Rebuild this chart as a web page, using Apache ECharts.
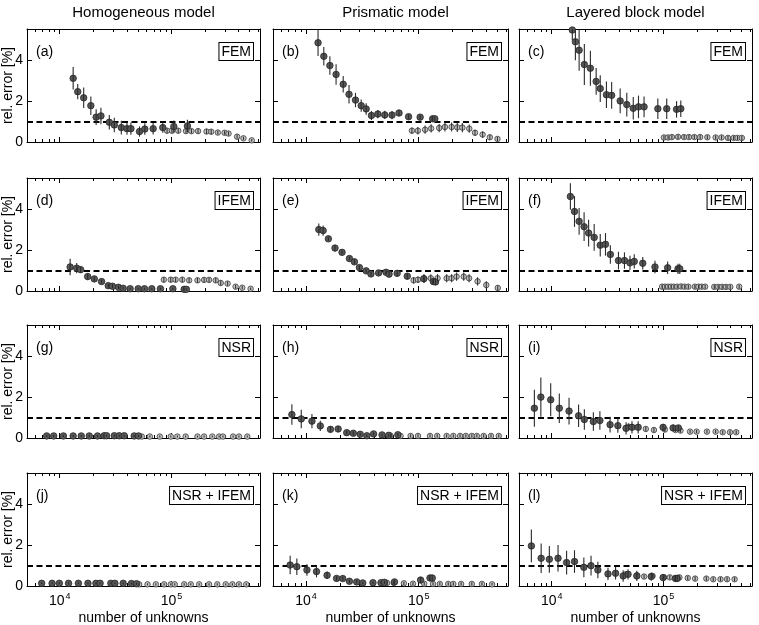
<!DOCTYPE html>
<html>
<head>
<meta charset="utf-8">
<script src="https://cdn.jsdelivr.net/npm/echarts@6/dist/echarts.min.js"></script>
<style>
  html, body { margin: 0; padding: 0; background: #fff; }
  #chart { width: 759px; height: 625px; }
</style>
</head>
<body>
<div id="chart"></div>
<script>
// x: number of unknowns, y: rel. error [%], e: half length of the error bar
// dark = filled dark markers, light = light grey markers

// (a) Homogeneous / FEM
const aDarkN = [13200, 14500, 16400, 19000, 21200, 23400, 27800, 30800, 35600, 40000, 43400, 51800, 57800, 68600, 83700, 105000, 139000];
const aDarkY = [3.10, 2.45, 2.15, 1.77, 1.21, 1.27, 0.96, 0.83, 0.70, 0.65, 0.65, 0.51, 0.63, 0.65, 0.70, 0.75, 0.78];
const aDarkE = [0.55, 0.37, 0.5, 0.45, 0.38, 0.4, 0.35, 0.35, 0.33, 0.3, 0.3, 0.25, 0.28, 0.28, 0.25, 0.3, 0.3];
const aLightN = [91400, 101000, 115000, 135000, 151000, 173000, 206000, 227000, 260000, 299000, 324000, 387000, 441000, 523000];
const aLightY = [0.55, 0.55, 0.55, 0.53, 0.53, 0.53, 0.51, 0.50, 0.46, 0.45, 0.41, 0.26, 0.18, 0.08];
const aLightE = [0.12, 0.12, 0.12, 0.12, 0.12, 0.12, 0.12, 0.12, 0.1, 0.1, 0.1, 0.1, 0.08, 0.06];

// (b) Prismatic / FEM
const bDarkN = [12800, 14400, 16300, 18500, 21400, 24100, 27500, 30900, 34200, 38100, 43400, 50000, 58000, 66900, 81400, 103000, 133000, 139000];
const bDarkY = [4.83, 4.17, 3.72, 3.29, 2.81, 2.32, 2.04, 1.77, 1.61, 1.29, 1.36, 1.32, 1.31, 1.41, 1.23, 1.21, 1.13, 1.13];
const bDarkE = [0.65, 0.45, 0.45, 0.5, 0.4, 0.45, 0.35, 0.3, 0.28, 0.22, 0.2, 0.2, 0.2, 0.15, 0.12, 0.12, 0.1, 0.1];
const bLightN = [87100, 98400, 114000, 129000, 152000, 171000, 196000, 220000, 244000, 281000, 316000, 369000, 428000, 500000];
const bLightY = [0.55, 0.55, 0.60, 0.66, 0.68, 0.73, 0.73, 0.71, 0.70, 0.65, 0.45, 0.36, 0.23, 0.15];
const bLightE = [0.15, 0.18, 0.2, 0.2, 0.2, 0.22, 0.22, 0.22, 0.22, 0.2, 0.15, 0.15, 0.12, 0.1];

// (c) Layered block / FEM
const cDarkN = [15300, 16300, 17600, 19600, 22200, 25000, 27200, 30900, 34400, 41000, 47000, 53700, 59800, 67100, 89100, 107000, 131000, 143000];
const cDarkY = [5.45, 4.88, 4.47, 3.77, 3.59, 2.95, 2.60, 2.30, 2.27, 2.0, 1.82, 1.64, 1.71, 1.71, 1.62, 1.62, 1.59, 1.62];
const cDarkE = [0.5, 0.9, 1.0, 1.0, 0.85, 0.65, 0.65, 0.65, 0.65, 0.6, 0.58, 0.55, 0.55, 0.5, 0.5, 0.5, 0.4, 0.4];
const cLightN = [101000, 110000, 119000, 135000, 153000, 169000, 189000, 213000, 247000, 293000, 331000, 378000, 425000, 460000, 503000];
const cLightY = [0.22, 0.22, 0.24, 0.25, 0.24, 0.24, 0.24, 0.24, 0.23, 0.22, 0.22, 0.2, 0.2, 0.2, 0.2];
const cLightE = [0.1, 0.1, 0.1, 0.1, 0.1, 0.1, 0.1, 0.1, 0.1, 0.1, 0.1, 0.1, 0.1, 0.1, 0.1];

// (d) Homogeneous / IFEM
const dDarkN = [12400, 14200, 15400, 17800, 20400, 23700, 27200, 29700, 33600, 37000, 42700, 50400, 57400, 66700, 79700, 103000, 130000, 136000];
const dDarkY = [1.17, 1.11, 1.04, 0.70, 0.59, 0.46, 0.26, 0.23, 0.18, 0.13, 0.11, 0.11, 0.11, 0.11, 0.11, 0.11, 0.08, 0.08];
const dDarkE = [0.4, 0.25, 0.15, 0.15, 0.1, 0.1, 0.1, 0.1, 0.08, 0.06, 0.05, 0.05, 0.05, 0.05, 0.05, 0.05, 0.05, 0.05];
const dLightN = [85500, 98600, 109000, 125000, 144000, 171000, 196000, 217000, 249000, 276000, 318000, 375000, 430000, 511000];
const dLightY = [0.55, 0.55, 0.55, 0.55, 0.52, 0.52, 0.54, 0.54, 0.52, 0.39, 0.36, 0.21, 0.16, 0.11];
const dLightE = [0.12, 0.12, 0.12, 0.12, 0.12, 0.12, 0.12, 0.12, 0.12, 0.12, 0.1, 0.1, 0.08, 0.06];

// (e) Prismatic / IFEM
const eDarkN = [13000, 14200, 15800, 18100, 20900, 24300, 26900, 29800, 34200, 37700, 44100, 51300, 54600, 64400, 79200, 111000, 135000, 141000];
const eDarkY = [2.99, 2.94, 2.54, 2.09, 1.88, 1.58, 1.42, 1.14, 0.98, 0.83, 0.88, 0.91, 0.82, 0.86, 0.72, 0.60, 0.46, 0.44];
const eDarkE = [0.3, 0.25, 0.1, 0.15, 0.1, 0.1, 0.12, 0.1, 0.1, 0.1, 0.1, 0.1, 0.12, 0.15, 0.15, 0.2, 0.15, 0.15];
const eLightN = [90200, 98600, 112000, 128000, 147000, 177000, 196000, 217000, 251000, 280000, 333000, 398000, 503000];
const eLightY = [0.52, 0.55, 0.60, 0.62, 0.62, 0.62, 0.62, 0.70, 0.70, 0.62, 0.47, 0.29, 0.15];
const eLightE = [0.15, 0.15, 0.2, 0.2, 0.2, 0.2, 0.2, 0.2, 0.2, 0.2, 0.2, 0.18, 0.12];

// (f) Layered block / IFEM
const fDarkN = [14700, 16000, 17600, 19500, 21400, 24000, 27200, 30300, 33500, 39600, 44800, 50200, 54800, 65300, 84000, 109000, 135000, 140000];
const fDarkY = [4.60, 3.87, 3.39, 3.13, 2.82, 2.61, 2.23, 2.27, 1.78, 1.48, 1.48, 1.37, 1.44, 1.35, 1.17, 1.13, 1.08, 1.08];
const fDarkE = [0.65, 0.75, 0.65, 0.7, 0.65, 0.65, 0.55, 0.55, 0.45, 0.43, 0.4, 0.35, 0.35, 0.3, 0.3, 0.3, 0.25, 0.25];
const fLightN = [97300, 103000, 110000, 117000, 124000, 133000, 144000, 155000, 167000, 191000, 206000, 220000, 236000, 285000, 309000, 335000, 363000, 396000, 476000];
const fLightY = [0.21, 0.21, 0.21, 0.21, 0.21, 0.21, 0.22, 0.21, 0.21, 0.21, 0.21, 0.21, 0.21, 0.2, 0.2, 0.2, 0.2, 0.2, 0.21];
const fLightE = [0.1, 0.1, 0.1, 0.1, 0.1, 0.1, 0.1, 0.1, 0.1, 0.1, 0.1, 0.1, 0.1, 0.1, 0.1, 0.1, 0.1, 0.1, 0.1];

// (g) Homogeneous / NSR
const gDarkN = [7650, 8840, 10800, 13200, 15600, 18400, 21800, 25000, 26300, 30800, 34100, 37800, 46400, 50700];
const gDarkY = [0.1, 0.1, 0.1, 0.1, 0.1, 0.1, 0.1, 0.11, 0.11, 0.11, 0.11, 0.11, 0.1, 0.1];
const gDarkE = [0.05, 0.05, 0.05, 0.05, 0.05, 0.05, 0.05, 0.05, 0.05, 0.05, 0.05, 0.05, 0.05, 0.05];
const gLightN = [54300, 64100, 78700, 98700, 113000, 134000, 171000, 196000, 232000, 267000, 289000, 356000, 402000, 477000];
const gLightY = [0.07, 0.07, 0.07, 0.07, 0.07, 0.07, 0.07, 0.07, 0.07, 0.07, 0.07, 0.07, 0.07, 0.07];
const gLightE = [0.05, 0.05, 0.05, 0.05, 0.05, 0.05, 0.05, 0.05, 0.05, 0.05, 0.05, 0.05, 0.05, 0.05];

// (h) Prismatic / NSR
const hDarkN = [7500, 9080, 11300, 13400, 16500, 19300, 23000, 26300, 30300, 34700, 39800, 47300, 54200, 65300];
const hDarkY = [1.14, 0.93, 0.82, 0.59, 0.42, 0.44, 0.26, 0.23, 0.18, 0.11, 0.20, 0.15, 0.13, 0.16];
const hDarkE = [0.5, 0.45, 0.35, 0.25, 0.15, 0.15, 0.1, 0.1, 0.08, 0.06, 0.08, 0.06, 0.06, 0.08];
const hLightN = [56100, 69000, 84800, 98600, 126000, 146000, 177000, 203000, 233000, 262000, 296000, 328000, 377000, 438000, 513000];
const hLightY = [0.12, 0.1, 0.1, 0.1, 0.1, 0.1, 0.1, 0.1, 0.1, 0.1, 0.1, 0.1, 0.1, 0.1, 0.1];
const hLightE = [0.08, 0.08, 0.08, 0.08, 0.08, 0.08, 0.08, 0.08, 0.08, 0.08, 0.08, 0.08, 0.08, 0.08, 0.08];

// (i) Layered block / NSR
const iDarkN = [7000, 8000, 9800, 11700, 14300, 17400, 19600, 23600, 27000, 33300, 39100, 46300, 52300, 59400, 99300, 122000, 136000];
const iDarkY = [1.45, 1.99, 1.86, 1.45, 1.31, 1.08, 0.90, 0.80, 0.85, 0.65, 0.60, 0.47, 0.52, 0.52, 0.52, 0.49, 0.49];
const iDarkE = [0.9, 0.95, 0.8, 0.72, 0.65, 0.55, 0.5, 0.45, 0.45, 0.38, 0.35, 0.3, 0.3, 0.3, 0.15, 0.15, 0.12];
const iLightN = [48800, 69500, 82200, 103000, 128000, 142000, 173000, 198000, 245000, 293000, 339000, 394000, 448000];
const iLightY = [0.55, 0.44, 0.39, 0.41, 0.39, 0.36, 0.31, 0.31, 0.31, 0.31, 0.28, 0.28, 0.28];
const iLightE = [0.15, 0.12, 0.12, 0.12, 0.1, 0.1, 0.08, 0.08, 0.08, 0.08, 0.08, 0.08, 0.08];

// (j) Homogeneous / NSR + IFEM
const jDarkN = [6900, 8550, 9930, 12000, 14700, 17900, 21100, 23000, 28700, 31200, 37000, 43900, 48700];
const jDarkY = [0.13, 0.13, 0.13, 0.13, 0.13, 0.13, 0.13, 0.13, 0.13, 0.13, 0.13, 0.12, 0.11];
const jDarkE = [0.05, 0.05, 0.05, 0.05, 0.05, 0.05, 0.05, 0.05, 0.05, 0.05, 0.05, 0.05, 0.05];
const jLightN = [51400, 61100, 72500, 86000, 98700, 107000, 130000, 149000, 177000, 217000, 257000, 306000, 351000, 402000, 467000];
const jLightY = [0.08, 0.08, 0.08, 0.08, 0.08, 0.08, 0.08, 0.08, 0.08, 0.08, 0.08, 0.08, 0.08, 0.08, 0.08];
const jLightE = [0.05, 0.05, 0.05, 0.05, 0.05, 0.05, 0.05, 0.05, 0.05, 0.05, 0.05, 0.05, 0.05, 0.05, 0.05];

// (k) Prismatic / NSR + IFEM
const kDarkN = [7240, 8300, 10200, 12400, 15400, 18700, 21200, 24300, 28200, 31900, 39300, 46300, 49700, 61000, 104000, 126000, 132000];
const kDarkY = [1.02, 0.94, 0.78, 0.70, 0.52, 0.37, 0.36, 0.23, 0.20, 0.15, 0.16, 0.16, 0.18, 0.20, 0.29, 0.39, 0.39];
const kDarkE = [0.45, 0.4, 0.28, 0.28, 0.18, 0.1, 0.1, 0.08, 0.08, 0.06, 0.06, 0.06, 0.08, 0.1, 0.15, 0.15, 0.15];
const kLightN = [52400, 60100, 73900, 89000, 112000, 134000, 154000, 183000, 203000, 238000, 296000, 364000, 448000];
const kLightY = [0.15, 0.15, 0.13, 0.11, 0.11, 0.10, 0.10, 0.10, 0.10, 0.10, 0.10, 0.10, 0.08];
const kLightE = [0.1, 0.1, 0.08, 0.08, 0.08, 0.08, 0.08, 0.08, 0.08, 0.08, 0.08, 0.08, 0.06];

// (l) Layered block / NSR + IFEM
const lDarkN = [6580, 8050, 9530, 11400, 13600, 16000, 19400, 22500, 25900, 31900, 37300, 43600, 48200, 57800, 77800, 99300, 128000, 133000];
const lDarkY = [1.95, 1.35, 1.30, 1.35, 1.14, 1.19, 0.91, 0.99, 0.78, 0.59, 0.62, 0.49, 0.57, 0.49, 0.46, 0.41, 0.37, 0.37];
const lDarkE = [0.8, 0.72, 0.65, 0.65, 0.58, 0.55, 0.48, 0.48, 0.4, 0.3, 0.3, 0.28, 0.25, 0.25, 0.2, 0.15, 0.15, 0.15];
const lLightN = [46000, 57800, 67100, 79900, 101000, 114000, 139000, 165000, 192000, 242000, 279000, 324000, 371000, 433000];
const lLightY = [0.57, 0.52, 0.46, 0.49, 0.42, 0.42, 0.42, 0.39, 0.36, 0.36, 0.33, 0.33, 0.33, 0.33];
const lLightE = [0.1, 0.1, 0.1, 0.1, 0.1, 0.1, 0.1, 0.1, 0.1, 0.1, 0.1, 0.1, 0.1, 0.1];

const columnTitles = ['Homogeneous model', 'Prismatic model', 'Layered block model'];
const methodNames = ['FEM', 'IFEM', 'NSR', 'NSR + IFEM'];
const panelLetters = ['a', 'b', 'c', 'd', 'e', 'f', 'g', 'h', 'i', 'j', 'k', 'l'];
const yTicks = [0, 2, 4];
const xMajorTicks = [1e4, 1e5];
const xMinorTicks = [6000, 7000, 8000, 9000, 20000, 30000, 40000, 50000, 60000, 70000, 80000, 90000,
                     200000, 300000, 400000, 500000, 600000];
const refLevel = 1;

const panelData = [
  [aDarkN, aDarkY, aDarkE, aLightN, aLightY, aLightE],
  [bDarkN, bDarkY, bDarkE, bLightN, bLightY, bLightE],
  [cDarkN, cDarkY, cDarkE, cLightN, cLightY, cLightE],
  [dDarkN, dDarkY, dDarkE, dLightN, dLightY, dLightE],
  [eDarkN, eDarkY, eDarkE, eLightN, eLightY, eLightE],
  [fDarkN, fDarkY, fDarkE, fLightN, fLightY, fLightE],
  [gDarkN, gDarkY, gDarkE, gLightN, gLightY, gLightE],
  [hDarkN, hDarkY, hDarkE, hLightN, hLightY, hLightE],
  [iDarkN, iDarkY, iDarkE, iLightN, iLightY, iLightE],
  [jDarkN, jDarkY, jDarkE, jLightN, jLightY, jLightE],
  [kDarkN, kDarkY, kDarkE, kLightN, kLightY, kLightE],
  [lDarkN, lDarkY, lDarkE, lLightN, lLightY, lLightE]
];

// layout
const FONT = '"Liberation Sans Narrow", "Liberation Sans", Arial, sans-serif';
const colLeft = [27, 273, 519];
const colWidth = [233, 235, 233];
const rowTop = [29, 178, 325, 473];
const rowHeight = 113;
const xMin = 5100, xMax = 620000, yMax = 5.5;

const chart = echarts.init(document.getElementById('chart'), null, { renderer: 'canvas' });

const grids = [], xAxes = [], yAxes = [], series = [], graphics = [];

function errorBars(xi, yi, N, Y, E, color) {
  return {
    type: 'custom',
    xAxisIndex: xi, yAxisIndex: yi,
    clip: true, silent: true, z: 4,
    data: N.map((n, k) => [n, Y[k], E[k]]),
    encode: { x: 0, y: 1 },
    renderItem(params, api) {
      const x = api.value(0), y = api.value(1), e = api.value(2);
      const p1 = api.coord([x, Math.max(0, y - e)]);
      const p2 = api.coord([x, y + e]);
      return {
        type: 'line',
        shape: { x1: p1[0], y1: p1[1], x2: p2[0], y2: p2[1] },
        style: { stroke: color, lineWidth: 1.1 }
      };
    }
  };
}

for (let p = 0; p < 12; p++) {
  const r = Math.floor(p / 3), c = p % 3;
  const left = colLeft[c], top = rowTop[r], w = colWidth[c];
  grids.push({ left: left, top: top, width: w, height: rowHeight, containLabel: false });

  const xi = xAxes.length;
  const tickStyle = { color: '#000', width: 1 };
  const baseX = {
    type: 'log', logBase: 10, gridIndex: p, min: xMin, max: xMax,
    splitLine: { show: false }, axisPointer: { show: false }
  };
  // bottom: major ticks + labels
  xAxes.push(Object.assign({}, baseX, {
    position: 'bottom',
    axisLine: { show: true, lineStyle: { color: '#000', width: 1 } },
    axisTick: { show: true, inside: true, length: 5, customValues: xMajorTicks, lineStyle: tickStyle },
    axisLabel: {
      show: r === 3, customValues: xMajorTicks, margin: 6,
      formatter: v => '{m|10}{s|' + Math.round(Math.log10(v)) + '}',
      rich: {
        m: { fontFamily: FONT, fontSize: 14, color: '#000' },
        s: { fontFamily: FONT, fontSize: 9, color: '#000', padding: [0, 0, 9, 1] }
      }
    }
  }));
  // bottom minor ticks
  xAxes.push(Object.assign({}, baseX, {
    position: 'bottom', axisLine: { show: false }, axisLabel: { show: false },
    axisTick: { show: true, inside: true, length: 3, customValues: xMinorTicks, lineStyle: tickStyle }
  }));
  // top major / minor ticks
  xAxes.push(Object.assign({}, baseX, {
    position: 'top', axisLine: { show: true, lineStyle: { color: '#000', width: 1 } },
    axisLabel: { show: false },
    axisTick: { show: true, inside: true, length: 5, customValues: xMajorTicks, lineStyle: tickStyle }
  }));
  xAxes.push(Object.assign({}, baseX, {
    position: 'top', axisLine: { show: false }, axisLabel: { show: false },
    axisTick: { show: true, inside: true, length: 3, customValues: xMinorTicks, lineStyle: tickStyle }
  }));

  const yi = yAxes.length;
  const baseY = {
    type: 'value', gridIndex: p, min: 0, max: yMax,
    splitLine: { show: false },
    axisLine: { show: true, lineStyle: { color: '#000', width: 1 } },
    axisTick: { show: true, inside: true, length: 5, customValues: yTicks, lineStyle: tickStyle }
  };
  yAxes.push(Object.assign({}, baseY, {
    position: 'left',
    axisLabel: { show: c === 0, customValues: yTicks, margin: 4, fontFamily: FONT, fontSize: 14, color: '#000' }
  }));
  yAxes.push(Object.assign({}, baseY, { position: 'right', axisLabel: { show: false } }));

  const [dN, dY, dE, lN, lY, lE] = panelData[p];

  series.push({
    type: 'scatter', xAxisIndex: xi, yAxisIndex: yi, silent: true, z: 2,
    symbol: 'circle', symbolSize: 5.5,
    itemStyle: { color: '#c2c2c2', borderColor: '#3a3a3a', borderWidth: 0.8, opacity: 1 },
    data: lN.map((n, k) => [n, lY[k]]),
    markLine: {
      silent: true, symbol: ['none', 'none'], z: 1, animation: false,
      label: { show: false },
      lineStyle: { color: '#000', width: 2, type: [6, 3.5] },
      data: [{ yAxis: refLevel }]
    }
  });
  series.push({
    type: 'scatter', xAxisIndex: xi, yAxisIndex: yi, silent: true, z: 3,
    symbol: 'circle', symbolSize: 6.5,
    itemStyle: { color: '#585858', borderColor: '#262626', borderWidth: 0.8, opacity: 1 },
    data: dN.map((n, k) => [n, dY[k]])
  });
  series.push(errorBars(xi, yi, lN, lY, lE, '#333'));
  series.push(errorBars(xi, yi, dN, dY, dE, '#2a2a2a'));

  // panel letter
  graphics.push({
    type: 'text', x: left + 9, y: top + 23,
    style: { text: '(' + panelLetters[p] + ')', font: '14px ' + FONT, fill: '#000', align: 'left', verticalAlign: 'middle' }
  });
  // method box
  graphics.push({
    type: 'text', x: left + w - 7, y: top + 14, z: 10,
    style: {
      text: methodNames[r], font: '14px ' + FONT, fill: '#000', align: 'right', verticalAlign: 'top',
      backgroundColor: '#fff', borderColor: '#000', borderWidth: 1, padding: [2, 2, 1, 2]
    }
  });
  if (c === 0) {
    graphics.push({
      type: 'text', x: 8, y: top + rowHeight / 2, rotation: Math.PI / 2,
      style: { text: 'rel. error [%]', font: '14px ' + FONT, fill: '#000', align: 'center', verticalAlign: 'middle' }
    });
  }
  if (r === 3) {
    graphics.push({
      type: 'text', x: left + w / 2, y: 618,
      style: { text: 'number of unknowns', font: '14px ' + FONT, fill: '#000', align: 'center', verticalAlign: 'middle' }
    });
  }
  if (r === 0) {
    graphics.push({
      type: 'text', x: left + w / 2 + (c === 1 ? 5 : 0), y: 13,
      style: { text: columnTitles[c], font: '15px ' + FONT, fill: '#000', align: 'center', verticalAlign: 'middle' }
    });
  }
}

chart.setOption({
  animation: false,
  backgroundColor: '#fff',
  grid: grids,
  xAxis: xAxes,
  yAxis: yAxes,
  series: series,
  graphic: graphics
});
</script>
</body>
</html>
